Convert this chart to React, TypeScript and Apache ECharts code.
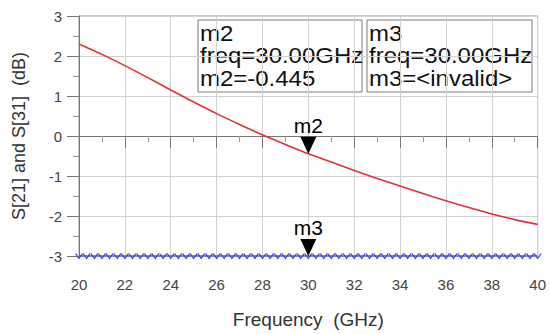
import React, { useEffect, useRef } from "react";
import * as echarts from "echarts";

const redFreq = [20, 21, 22, 23, 24, 25, 26, 27, 28, 29, 30, 31, 32, 33, 34, 35, 36, 37, 38, 39, 40];
const redVals = [2.3, 2.04, 1.76, 1.46, 1.15, 0.85, 0.56, 0.29, 0.03, -0.21, -0.445, -0.65, -0.86, -1.06, -1.25, -1.44, -1.62, -1.79, -1.95, -2.09, -2.21];

const blueFreq = [
  20, 20.33, 20.67, 21, 21.33, 21.67, 22, 22.33, 22.67, 23, 23.33, 23.67, 24, 24.33, 24.67, 25, 25.33, 25.67,
  26, 26.33, 26.67, 27, 27.33, 27.67, 28, 28.33, 28.67, 29, 29.33, 29.67, 30, 30.33, 30.67, 31, 31.33, 31.67,
  32, 32.33, 32.67, 33, 33.33, 33.67, 34, 34.33, 34.67, 35, 35.33, 35.67, 36, 36.33, 36.67, 37, 37.33, 37.67,
  38, 38.33, 38.67, 39, 39.33, 39.67, 40,
];
const blueVals = [
  -3, -3, -3, -3, -3, -3, -3, -3, -3, -3, -3, -3, -3, -3, -3, -3, -3, -3,
  -3, -3, -3, -3, -3, -3, -3, -3, -3, -3, -3, -3, -3, -3, -3, -3, -3, -3,
  -3, -3, -3, -3, -3, -3, -3, -3, -3, -3, -3, -3, -3, -3, -3, -3, -3, -3,
  -3, -3, -3, -3, -3, -3, -3,
];

const m2Freq = 30;
const m2Val = -0.445;
const m3Freq = 30;
const m3Val = -3;

const m2Lines = ["m2", "freq=30.00GHz", "m2=-0.445"];
const m3Lines = ["m3", "freq=30.00GHz", "m3=<invalid>"];

const FONT = "Arial, 'Liberation Sans', sans-serif";

function boxGraphic(x: number, w: number, lines: string[]) {
  const children: any[] = [
    {
      type: "rect",
      shape: { x: 0, y: 0, width: w, height: 72 },
      style: { fill: "rgba(255,255,255,0.6)", stroke: "#7a7a7a", lineWidth: 1 },
    },
  ];
  const mids = [13.4, 35.6, 58.4];
  lines.forEach((t, i) => {
    children.push({
      type: "text",
      x: 2,
      y: mids[i],
      scaleX: 1.09,
      style: {
        text: t,
        fontSize: 22,
        fontFamily: FONT,
        fill: "#111",
        verticalAlign: "middle",
        align: "left",
      },
    });
  });
  return { type: "group", x, y: 20, children, z: 100 };
}

export default function App() {
  const ref = useRef<HTMLDivElement>(null);
  useEffect(() => {
    if (!ref.current) return;
    const chart = echarts.init(ref.current, null, { renderer: "svg" });
    const triMark = (name: string, f: number, v: number) => ({
      symbol: "triangle",
      symbolRotate: 180,
      symbolSize: [16, 17],
      symbolOffset: [0, "-50%"],
      itemStyle: { color: "#000" },
      label: {
        show: true,
        position: "top",
        distance: 1,
        formatter: name,
        color: "#000",
        fontSize: 21,
        fontFamily: FONT,
      },
      data: [{ coord: [f, v] }],
    });
    chart.setOption({
      animation: false,
      backgroundColor: "#fff",
      grid: {
        left: 79,
        top: 16,
        width: 460,
        height: 243,
        show: true,
        borderColor: "#999",
        borderWidth: 1,
        backgroundColor: "transparent",
      },
      xAxis: {
        type: "value",
        min: 20,
        max: 40,
        interval: 2,
        name: "Frequency  (GHz)",
        nameLocation: "middle",
        nameGap: 54,
        nameTextStyle: { fontSize: 19, fontFamily: FONT, color: "#333" },
        axisLine: { show: true, lineStyle: { color: "#777" } },
        axisTick: { show: true, length: 12, lineStyle: { color: "#777" } },
        minorTick: { show: true, splitNumber: 2, length: 6, lineStyle: { color: "#999" } },
        axisLabel: { fontSize: 15, fontFamily: FONT, color: "#444", margin: 21 },
        splitLine: { show: true, lineStyle: { color: "#d2d2d2" } },
      },
      yAxis: {
        type: "value",
        min: -3,
        max: 3,
        interval: 1,
        name: "S[21] and S[31]  (dB)",
        nameLocation: "middle",
        nameGap: 51,
        nameTextStyle: { fontSize: 18, fontFamily: FONT, color: "#333" },
        axisLine: { show: true, lineStyle: { color: "#777" } },
        axisTick: { show: true, length: 12, lineStyle: { color: "#777" } },
        minorTick: { show: true, splitNumber: 2, length: 6, lineStyle: { color: "#999" } },
        axisLabel: { fontSize: 15, fontFamily: FONT, color: "#444", margin: 17 },
        splitLine: { show: true, lineStyle: { color: "#d2d2d2" } },
      },
      series: [
        {
          type: "line",
          data: redFreq.map((f, i) => [f, redVals[i]]),
          showSymbol: false,
          smooth: 0.3,
          lineStyle: { color: "#e0303c", width: 1.6 },
          markPoint: triMark("m2", m2Freq, m2Val),
          z: 3,
        },
        {
          type: "line",
          data: blueFreq.map((f, i) => [f, blueVals[i]]),
          clip: false,
          symbol: "path://M0 0L5 7L10 0",
          symbolSize: [7, 5],
          showSymbol: true,
          showAllSymbol: true,
          itemStyle: { color: "none", borderColor: "#3a3ae0", borderWidth: 1 },
          lineStyle: { color: "#3a3ae0", width: 1.2 },
          markPoint: triMark("m3", m3Freq, m3Val),
          z: 4,
        },
      ],
      graphic: [boxGraphic(198, 164, m2Lines), boxGraphic(367, 165, m3Lines)],
    });
    return () => chart.dispose();
  }, []);
  return (
    <div
      ref={ref}
      style={{ position: "fixed", left: 0, top: 0, width: 549, height: 334, background: "#fff" }}
    />
  );
}
